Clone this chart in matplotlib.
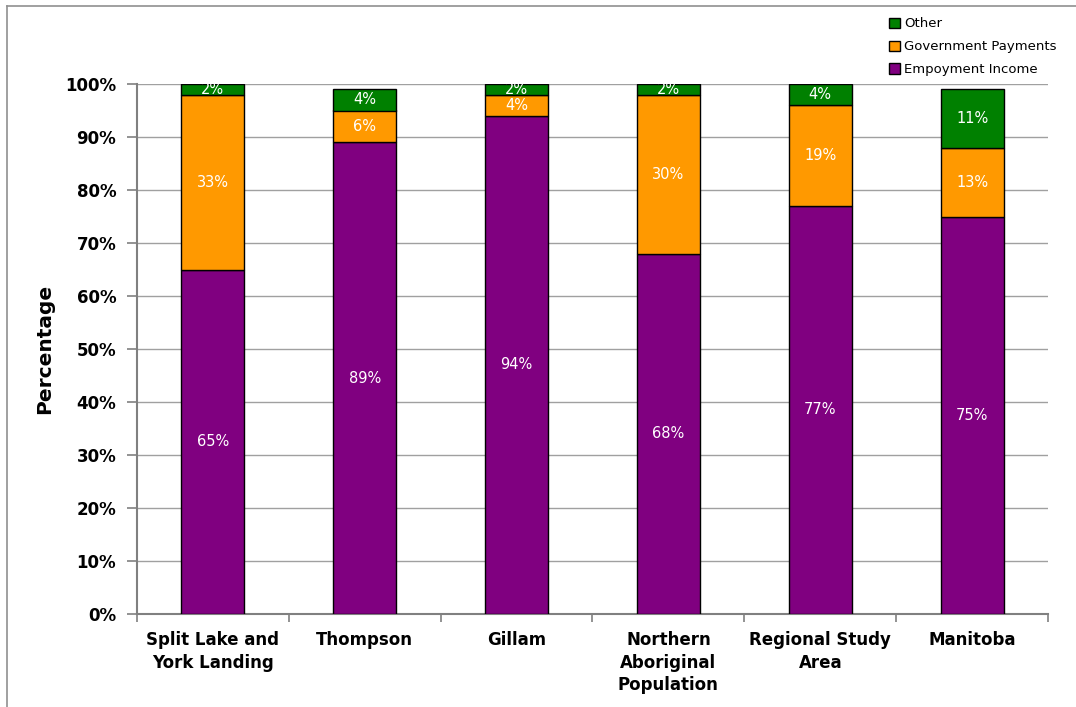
import matplotlib
matplotlib.use("Agg")
import matplotlib.pyplot as plt
from matplotlib.lines import Line2D
from matplotlib.patches import Patch
import numpy as np

categories = ["Split Lake and\nYork Landing", "Thompson", "Gillam",
              "Northern\nAboriginal\nPopulation", "Regional Study\nArea", "Manitoba"]
employment = [65, 89, 94, 68, 77, 75]
government = [33, 6, 4, 30, 19, 13]
other = [2, 4, 2, 2, 4, 11]
y_ticks = [0, 10, 20, 30, 40, 50, 60, 70, 80, 90, 100]

series = [
    ("Empoyment Income", employment, "#800080"),
    ("Government Payments", government, "#FF9900"),
    ("Other", other, "#008000"),
]

fig = plt.figure(figsize=(10.76, 7.07), dpi=100)
ax = fig.add_axes([137 / 1076, 1 - 614 / 707, (1048 - 137) / 1076, (614 - 84) / 707])

x = np.arange(len(categories))
width = 0.415
bottom = np.zeros(len(categories))
for name, vals, color in series:
    vals = np.array(vals, dtype=float)
    ax.bar(x, vals, width, bottom=bottom, color=color, edgecolor="black",
           linewidth=1.0, zorder=3, label=name)
    for xi, b, v in zip(x, bottom, vals):
        ax.text(xi, b + v / 2, f"{int(v)}%", ha="center", va="center",
                color="white", fontsize=10.5, zorder=4)
    bottom += vals

ax.set_xlim(-0.5, len(categories) - 0.5)
ax.set_ylim(0, 100)
ax.set_yticks(y_ticks)
ax.set_yticklabels([f"{t}%" for t in y_ticks], fontsize=12, fontweight="bold")
ax.yaxis.grid(True, color="#A0A0A0", linewidth=1.0, zorder=0)
ax.set_axisbelow(True)

ax.set_xticks(x)
ax.set_xticklabels(categories, fontsize=12, fontweight="bold", linespacing=1.35)
ax.set_xticks(np.arange(-0.5, len(categories)), minor=True)
ax.tick_params(axis="x", which="major", length=0, pad=12)
ax.tick_params(axis="x", which="minor", length=6, color="#808080", width=1.2)
ax.tick_params(axis="y", length=7, color="#808080", width=1.2, pad=8)

for side in ["top", "right"]:
    ax.spines[side].set_visible(False)
for side in ["left", "bottom"]:
    ax.spines[side].set_color("#808080")
    ax.spines[side].set_linewidth(1.5)

ax.set_ylabel("Percentage", fontsize=14.5, fontweight="bold", labelpad=8)

handles = [Patch(facecolor=c, edgecolor="black", label=n) for n, _, c in reversed(series)]
leg = fig.legend(handles=handles, loc="upper left", bbox_to_anchor=(884 / 1076, 1 - 12 / 707),
                 frameon=False, fontsize=9.5, handlelength=0.8, handleheight=0.8,
                 handletextpad=0.3, labelspacing=0.75, borderaxespad=0)

# outer chart frame
fig.add_artist(Line2D([7 / 1076, 7 / 1076], [0, 1 - 6 / 707], transform=fig.transFigure,
                      color="#909090", linewidth=1.2))
fig.add_artist(Line2D([7 / 1076, 1], [1 - 6 / 707, 1 - 6 / 707], transform=fig.transFigure,
                      color="#909090", linewidth=1.2))

fig.savefig("out.png", dpi=100)
